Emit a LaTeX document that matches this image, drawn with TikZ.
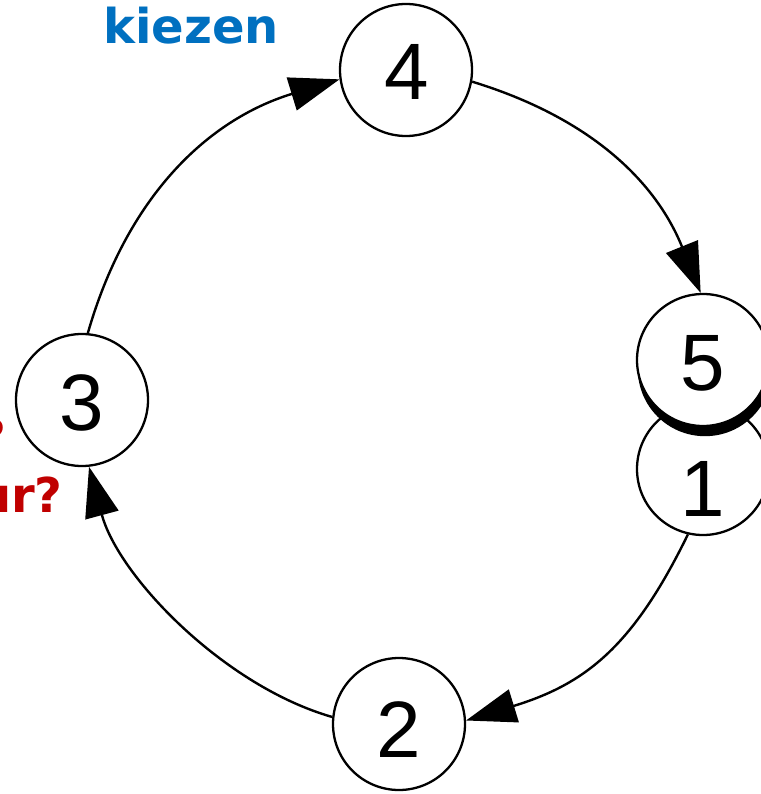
\documentclass[tikz,border=0pt]{standalone}
\usepackage{fontspec}
\setmainfont{Liberation Sans}
\newfontfamily\dejabold{DejaVu Sans}[BoldFont={DejaVu Sans Bold}]
\usetikzlibrary{arrows.meta}
\definecolor{kblue}{HTML}{0070C0}
\definecolor{kred}{HTML}{C00000}
\begin{document}
\begin{tikzpicture}[x=1pt,y=1pt,
  state/.style={circle,draw=black,line width=2.3pt,fill=white,minimum size=132pt,inner sep=0pt},
  digit/.style={inner sep=0pt,font=\fontsize{80}{80}\selectfont},
  conn/.style={line width=2.4pt,-{Triangle[length=50pt,width=34pt]}},
  lbl/.style={inner sep=0pt,font=\dejabold\bfseries\fontsize{48}{56}\selectfont}]
\useasboundingbox (0,0) rectangle (760,-794);
% texts
\node[lbl,text=kblue,anchor=base west] (kiezen) at (103,-44) {kiezen};
\node[lbl,text=kred,anchor=base east] (q1) at (7,-454) {?};
\node[lbl,text=kred,anchor=base east] (q2) at (63,-512) {ur?};
% circles
\node[state] (c4) at (406,-70) {};
\node[state] (c3) at (82,-400) {};
\node[state] (c2) at (399,-724) {};
\node[state] (c1) at (703,-469) {};
\fill[black] (705,-369) circle (67.2pt);
\node[state] (c5) at (703,-360) {};
% connectors
\draw[conn] (c3.85) to[out=74,in=197] (c4.188);
\draw[conn] (c4.-10) to[out=-17,in=112] (c5.92);
\draw[conn] (c1.-103) to[out=-116,in=17,looseness=1.1] (c2.3);
\draw[conn] (c2.174) to[out=164,in=-75,looseness=0.83] (c3.-84);
% digits
\node[digit] (t4) at (407,-72) {4};
\node[digit] (t5) at (703,-363) {5};
\node[digit] (t1) at (703,-489) {1};
\node[digit] (t3) at (82,-403) {3};
\node[digit] (t2) at (399,-730) {2};
\end{tikzpicture}
\end{document}
